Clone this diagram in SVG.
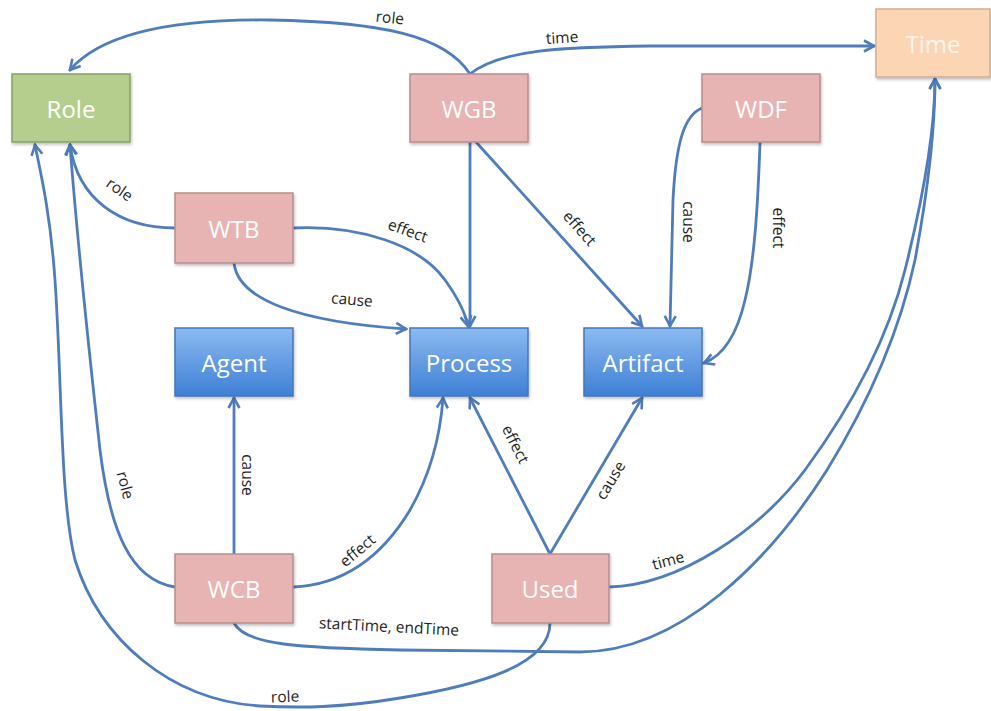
<svg xmlns="http://www.w3.org/2000/svg" width="991" height="711" viewBox="0 0 991 711">
<defs>
<linearGradient id="blueGrad" x1="0" y1="0" x2="0" y2="1">
<stop offset="0" stop-color="#8bbaf0"/>
<stop offset="1" stop-color="#3e7fd6"/>
</linearGradient>
<marker id="arr" viewBox="0 0 14 14" refX="12" refY="7" markerWidth="14" markerHeight="14" markerUnits="userSpaceOnUse" orient="auto">
<path d="M2,1.5 L12,7 L2,12.5" fill="none" stroke="#4f7cba" stroke-width="2.6" stroke-linejoin="miter"/>
</marker>
<filter id="sh" x="-10%" y="-10%" width="130%" height="130%">
<feDropShadow dx="1" dy="2" stdDeviation="1.5" flood-color="#000" flood-opacity="0.25"/>
</filter>
</defs>
<style>
.node rect{stroke-width:1.5;filter:url(#sh)}
.pink rect{fill:#e7b3b3;stroke:#b98d8d}
.blue rect{fill:url(#blueGrad);stroke:#4477b5}
.green rect{fill:#b6ce8d;stroke:#88a265}
.peach rect{fill:#fcd5b5;stroke:#d4ad8c}
.node text{font-family:"Open Sans","Liberation Sans",sans-serif;font-size:24px;fill:#ffffff;text-anchor:middle;dominant-baseline:central}
.peach text{fill:#fff6ee}
.edges path{fill:none;stroke:#4f7cba;stroke-width:2.8;stroke-linecap:round}
.edges path.a{marker-end:url(#arr)}
.lbl{font-family:"Open Sans","Liberation Sans",sans-serif;font-size:15.5px;fill:#1e1e1e;text-anchor:middle;dominant-baseline:central}
</style>

<g id="connectors" class="edges">
<path class="a" d="M470,74 C445,35 380,22 270,20 C170,19 100,35 70,70"/>
<path class="a" d="M470,74 C500,50 560,47 650,46 L874,46"/>
<path class="a" d="M470,142 L470,326"/>
<path class="a" d="M476,142 L642,326"/>
<path class="a" d="M702,108 C685,115 676,140 673,200 L670,326"/>
<path class="a" d="M760,143 C758,200 755,260 745,300 C738,330 725,355 704,363"/>
<path class="a" d="M175,228 C120,228 78,200 70,145"/>
<path class="a" d="M293,228 C360,225 420,245 445,280 C458,298 465,312 468,326"/>
<path class="a" d="M234,263 C238,300 300,322 406,329"/>
<path class="a" d="M234,554 L234,398"/>
<path class="a" d="M293,587 C340,585 380,560 410,510 C430,475 440,440 443,398"/>
<path class="a" d="M175,587 C130,580 110,530 100,450 C90,360 78,250 70,145"/>
<path class="a" d="M550,623 C550,665 480,685 400,698 C340,708 300,708 260,706 C170,700 100,640 75,560 C60,500 62,380 55,280 C50,210 40,170 35,145"/>
<path class="a" d="M234,623 C245,645 300,648 400,650 L580,652 C680,652 770,560 827,470 C870,400 900,330 915,260 C928,190 935,130 935,79"/>
<path class="a" d="M609,587 C680,585 760,530 805,470 C860,395 890,330 905,270 C925,190 935,130 935,79"/>
<path class="a" d="M550,554 L470,398"/>
<path class="a" d="M550,554 L642,398"/>

<text class="lbl" transform="translate(390,17) rotate(6)">role</text>
<text class="lbl" transform="translate(562,37) rotate(-4)">time</text>
<text class="lbl" transform="translate(580,228) rotate(48)">effect</text>
<text class="lbl" transform="translate(689,222) rotate(90)">cause</text>
<text class="lbl" transform="translate(779,228) rotate(90)">effect</text>
<text class="lbl" transform="translate(120,189) rotate(35)">role</text>
<text class="lbl" transform="translate(408,230) rotate(20)">effect</text>
<text class="lbl" transform="translate(352,299) rotate(5)">cause</text>
<text class="lbl" transform="translate(248,475) rotate(90)">cause</text>
<text class="lbl" transform="translate(126,485) rotate(75)">role</text>
<text class="lbl" transform="translate(357,550) rotate(-40)">effect</text>
<text class="lbl" transform="translate(516,444) rotate(63)">effect</text>
<text class="lbl" transform="translate(610,480) rotate(-59)">cause</text>
<text class="lbl" transform="translate(668,560) rotate(-15)">time</text>
<text class="lbl" transform="translate(389,626) rotate(3)">startTime, endTime</text>
<text class="lbl" transform="translate(285,696) rotate(-2)">role</text>
</g>

<g id="node-role" class="node green"><rect x="12" y="74" width="118" height="68"/><text x="71" y="108">Role</text></g>
<g id="node-wgb" class="node pink"><rect x="410" y="74" width="118" height="68"/><text x="469" y="108">WGB</text></g>
<g id="node-time" class="node peach"><rect x="876" y="9" width="114" height="68"/><text x="933" y="43">Time</text></g>
<g id="node-wdf" class="node pink"><rect x="702" y="74" width="118" height="68"/><text x="761" y="108">WDF</text></g>
<g id="node-wtb" class="node pink"><rect x="175" y="193" width="118" height="70"/><text x="234" y="228">WTB</text></g>
<g id="node-agent" class="node blue"><rect x="175" y="328" width="118" height="68"/><text x="234" y="362">Agent</text></g>
<g id="node-process" class="node blue"><rect x="410" y="328" width="118" height="68"/><text x="469" y="362">Process</text></g>
<g id="node-artifact" class="node blue"><rect x="584" y="328" width="118" height="68"/><text x="643" y="362">Artifact</text></g>
<g id="node-wcb" class="node pink"><rect x="175" y="554" width="118" height="69"/><text x="234" y="588">WCB</text></g>
<g id="node-used" class="node pink"><rect x="492" y="554" width="117" height="69"/><text x="550" y="588">Used</text></g>
</svg>
